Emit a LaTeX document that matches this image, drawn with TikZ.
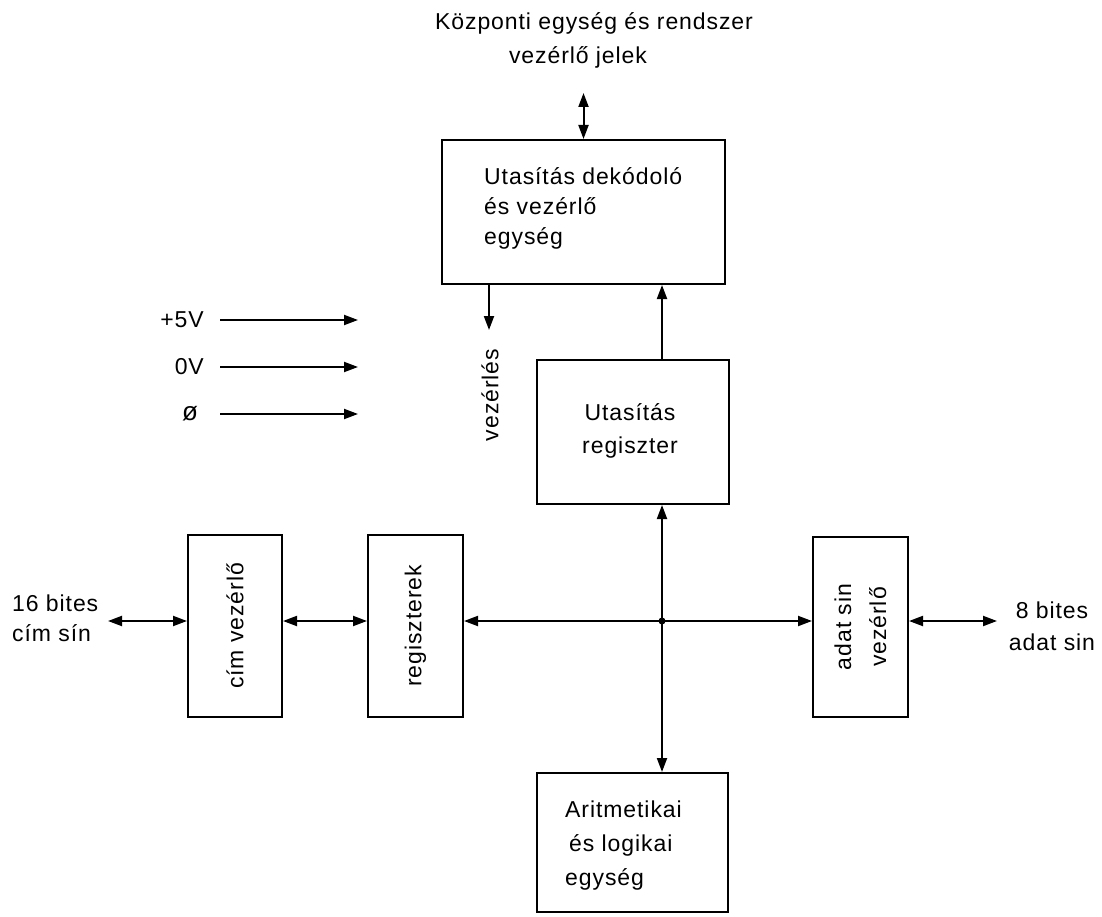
\documentclass[tikz,border=0pt]{standalone}
\usepackage{fontspec}
\setmainfont{Liberation Sans}[LetterSpace=4]
\usetikzlibrary{arrows.meta}
\tikzset{
  box/.style={draw, line width=2pt, inner sep=0pt},
  txt/.style={inner sep=0pt, font=\fontsize{23}{30}\selectfont},
  arr/.style={line width=2pt, -{Triangle[length=14pt,width=10pt]}},
  darr/.style={line width=2pt, {Triangle[length=14pt,width=10pt]}-{Triangle[length=14pt,width=10pt]}},
}
\begin{document}
\begin{tikzpicture}[x=1pt,y=-1pt]
\useasboundingbox (0,0) rectangle (1102,917);
% boxes
\node[box, minimum width=283pt, minimum height=144pt] (dec) at (583.5,212) {};
\node[box, minimum width=192pt, minimum height=144pt] (ureg) at (633,432) {};
\node[box, minimum width=191pt, minimum height=139pt] (alu) at (632.5,842.5) {};
\node[box, minimum width=94pt, minimum height=182pt] (cim) at (235,626) {};
\node[box, minimum width=95pt, minimum height=182pt] (reg) at (415.5,626) {};
\node[box, minimum width=95pt, minimum height=180pt] (adat) at (860.5,627) {};
% texts in boxes
\node[txt, anchor=west, align=left] (dect) at (484,208) {Utasítás dekódoló\\és vezérlő\\egység};
\node[txt, align=center, font=\fontsize{23}{33}\selectfont] (uregt) at (630,431) {Utasítás\\regiszter};
\node[txt, anchor=west, align=left, font=\fontsize{23}{34}\selectfont] (alut) at (565,846) {Aritmetikai\\\hspace{4pt}és logikai\\egység};
\node[txt, rotate=90] (cimt) at (cim.center) {cím vezérlő};
\node[txt, rotate=90] (regt) at (reg.center) {regiszterek};
\node[txt, rotate=90, align=center, font=\fontsize{23}{35}\selectfont] (adatt) at (adat.center) {adat sin\\vezérlő};
% outside labels
\node[txt] (top1) at (594,23) {Központi egység és rendszer};
\node[txt] (top2) at (578,57) {vezérlő jelek};
\node[txt, rotate=90] (vzt) at (490,395) {vezérlés};
\node[txt, anchor=west, align=left] (b16) at (12,618) {16 bites\\cím sín};
\node[txt, align=center, font=\fontsize{23}{32}\selectfont] (b8) at (1052,626) {8 bites\\adat sin};
\node[txt, anchor=east] (l5) at (204,320) {+5V};
\node[txt, anchor=east] (l0) at (204,367) {0V};
\node[txt, font=\fontsize{26}{30}\selectfont] (lf) at (190,414) {ø};
% coordinates
\coordinate (J) at (662,621);
\coordinate (ctop) at (583.5,93);
\coordinate (vz) at (489,330);
\coordinate (c16) at (108,621);
\coordinate (c8) at (997,621);
\coordinate (a5) at (220,320); \coordinate (b5) at (358,320);
\coordinate (a0) at (220,367); \coordinate (b0) at (358,367);
\coordinate (af) at (220,414); \coordinate (bf) at (358,414);
% connectors
\draw[darr] (ctop) -- (dec.north);
\draw[arr] (vz |- dec.south) -- (vz);
\draw[arr] (ureg.north -| J) -- (dec.south -| J);
\draw[darr] (c16) -- (cim.west |- J);
\draw[darr] (cim.east |- J) -- (reg.west |- J);
\draw[darr] (reg.east |- J) -- (adat.west |- J);
\draw[darr] (adat.east |- J) -- (c8);
\draw[arr] (J) -- (ureg.south -| J);
\draw[arr] (J) -- (alu.north -| J);
\fill (J) circle (3.5pt);
\draw[arr] (a5) -- (b5);
\draw[arr] (a0) -- (b0);
\draw[arr] (af) -- (bf);
\end{tikzpicture}
\end{document}
